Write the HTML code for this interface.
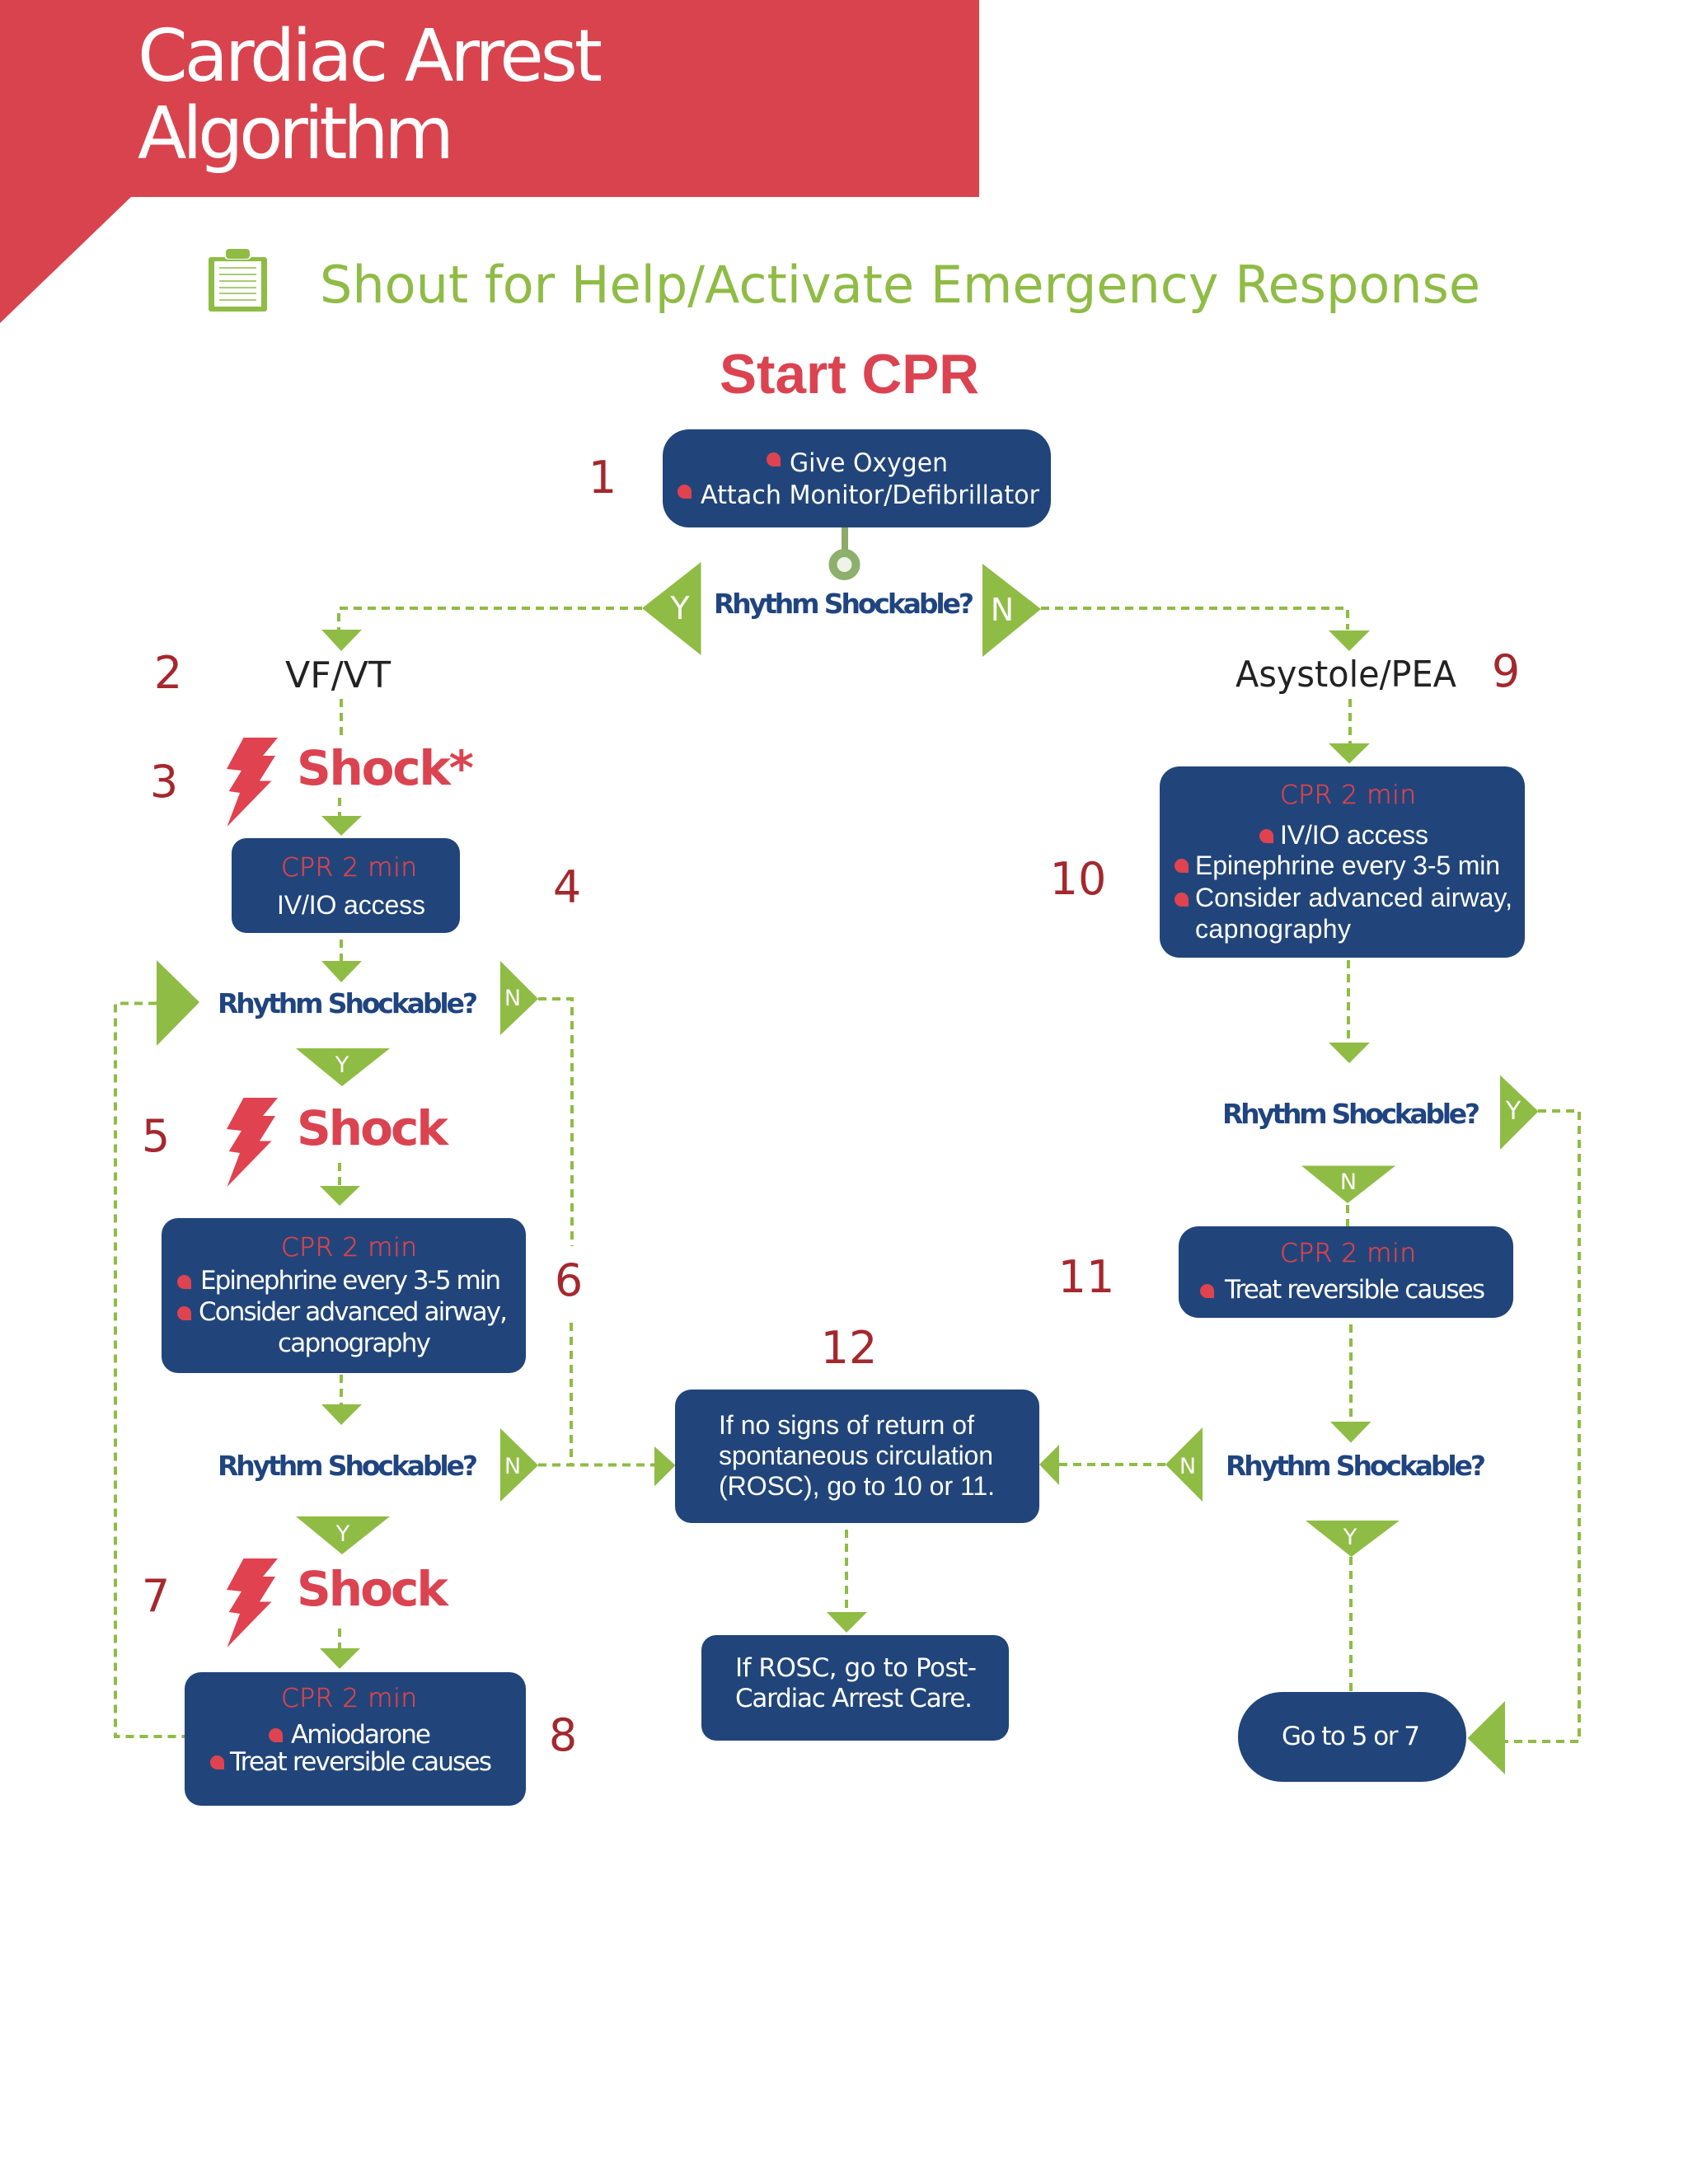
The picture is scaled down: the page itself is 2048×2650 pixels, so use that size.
<!DOCTYPE html>
<html><head><meta charset="utf-8"><title>Cardiac Arrest Algorithm</title>
<style>
html,body{margin:0;padding:0;background:#fff}
svg{display:block}
text{font-family:"DejaVu Sans","Liberation Sans",sans-serif}
.tri{fill:#8fbc45}
.dash{fill:none;stroke:#8fbc45;stroke-width:4;stroke-dasharray:10 7}
.box{fill:#21457a}
.num{fill:#a4282d;font-size:54px;text-anchor:middle}
.cpr{fill:#d9434e;font-size:31px;font-weight:200;stroke:#d9434e;stroke-width:.6}
.w{fill:#fff;font-size:31px}
.lib{font-family:"Liberation Sans",sans-serif;fill:#fff;font-size:32px}
.rs{fill:#1f4480;font-size:33px;font-weight:700}
.sh{fill:#db4350;font-size:58px;font-weight:700}
.yn{fill:#fff;font-size:27px;text-anchor:middle;font-weight:400}
.bl{fill:#df4350}
</style></head><body>
<svg xmlns="http://www.w3.org/2000/svg" width="2048" height="2650" viewBox="0 0 2048 2650">
<defs>
<path id="b" d="M8.5 0A8.5 8.5 0 1 0 8.5 17H17V8.5A8.5 8.5 0 0 0 8.5 0Z"/>
<polygon id="bolt" points="295.5,895 337,895 319,917 334,917 315,947.5 329.5,947.5 275.5,1003 291,962 277.7,960 293,935 275,933"/>
</defs>
<rect width="2048" height="2650" fill="#fff"/>

<polygon points="0,0 1188,0 1188,239 159,239 0,392" fill="#d9434e"/>
<text x="167" y="98" font-size="87" fill="#fff" textLength="564" lengthAdjust="spacing">Cardiac Arrest</text>
<text x="167" y="192" font-size="87" fill="#fff" textLength="384" lengthAdjust="spacing">Algorithm</text>

<rect x="253" y="312" width="71" height="66" rx="3" fill="#8fbc45"/>
<rect x="260" y="317" width="57" height="55" fill="#fff"/>
<rect x="272" y="300" width="33" height="15" rx="5" fill="#fff"/>
<rect x="274" y="302" width="29" height="12" rx="4" fill="#8fbc45"/>
<g stroke="#8fbc45" stroke-width="1.6"><line x1="266" x2="311" y1="325" y2="325"/><line x1="266" x2="311" y1="333" y2="333"/><line x1="266" x2="311" y1="341" y2="341"/><line x1="266" x2="311" y1="349" y2="349"/><line x1="266" x2="311" y1="356" y2="356"/><line x1="266" x2="311" y1="364" y2="364"/></g>
<text x="388" y="367" font-size="62" fill="#8fbc45" textLength="1408" lengthAdjust="spacing">Shout for Help/Activate Emergency Response</text>

<text x="873" y="477" font-size="68" font-weight="700" style="font-family:'Liberation Sans',sans-serif" fill="#db4350" textLength="315" lengthAdjust="spacingAndGlyphs">Start CPR</text>

<!-- dashed connectors -->
<path class="dash" d="M779 738H411V764"/>
<path class="dash" d="M1263 738H1635V764"/>
<path class="dash" d="M414 848V898"/>
<path class="dash" d="M412 968V990"/>
<path class="dash" d="M414 1140V1166"/>
<path class="dash" d="M653 1212H694V1512"/>
<path class="dash" d="M693 1605V1778"/>
<path class="dash" d="M190 1217.5H140V2107H224"/>
<path class="dash" d="M412 1411V1440"/>
<path class="dash" d="M414 1668V1704"/>
<path class="dash" d="M653 1777.5H794"/>
<path class="dash" d="M412 1976V2000"/>
<path class="dash" d="M1285 1777H1414"/>
<path class="dash" d="M1027 1856V1956"/>
<path class="dash" d="M1638 848V902"/>
<path class="dash" d="M1636 1165V1265"/>
<path class="dash" d="M1866 1348H1916V2113H1826"/>
<path class="dash" d="M1635 1462V1488"/>
<path class="dash" d="M1639 1607V1725"/>
<path class="dash" d="M1639 1889V2053"/>

<!-- Box 1 -->
<rect class="box" x="804" y="521" width="471" height="119" rx="32"/>
<use href="#b" class="bl" x="930" y="549"/>
<use href="#b" class="bl" x="822" y="588"/>
<text x="958" y="572" class="w" font-size="30" textLength="192" lengthAdjust="spacingAndGlyphs">Give Oxygen</text>
<text x="850" y="611" class="w" font-size="30" textLength="411" lengthAdjust="spacingAndGlyphs">Attach Monitor/Defibrillator</text>
<text x="724" y="598" class="num" transform="translate(7 0)">1</text>
<rect x="1009" y="640" width="8" height="30" fill="#8aab6a" transform="translate(12 0)"/>
<circle cx="1024.5" cy="685" r="14" fill="#eef3e8" stroke="#8db06d" stroke-width="10"/>

<polygon class="tri" points="779,738 850.5,682 850.5,795"/>
<polygon class="tri" points="1192,684 1263,739 1192,797"/>
<text x="817" y="751" class="yn" style="font-size:38px" transform="translate(8 0)">Y</text>
<text x="1205" y="753" class="yn" style="font-size:38px" transform="translate(11 0)">N</text>
<text x="866" y="744" class="rs" textLength="316" lengthAdjust="spacing">Rhythm Shockable?</text>

<polygon class="tri" points="390,764 439,764 414,790"/>
<polygon class="tri" points="1612,765 1662,765 1637,790"/>

<!-- Left column -->
<text x="346" y="834" font-size="44" fill="#222" textLength="128" lengthAdjust="spacingAndGlyphs">VF/VT</text>
<text x="204" y="835" class="num">2</text>
<text x="199" y="967" class="num">3</text>
<text x="688" y="1095" class="num">4</text>
<text x="189" y="1397" class="num">5</text>
<text x="690" y="1572" class="num">6</text>
<text x="189" y="1955" class="num">7</text>
<text x="683" y="2124" class="num">8</text>
<use href="#bolt" fill="#e0424f"/>
<use href="#bolt" fill="#e0424f" y="437"/>
<use href="#bolt" fill="#e0424f" y="996"/>
<text x="360" y="952" class="sh" textLength="215" lengthAdjust="spacing">Shock*</text>
<text x="360" y="1389" class="sh" textLength="184" lengthAdjust="spacing">Shock</text>
<text x="360" y="1948" class="sh" textLength="184" lengthAdjust="spacing">Shock</text>

<polygon class="tri" points="390,990 439,990 414,1014"/>
<rect class="box" x="281" y="1017" width="277" height="115" rx="18"/>
<text x="341" y="1063" class="cpr" textLength="165" lengthAdjust="spacing">CPR 2 min</text>
<text x="336" y="1109" class="lib" textLength="180" lengthAdjust="spacing">IV/IO access</text>

<polygon class="tri" points="390,1166 439,1166 414,1192"/>
<polygon class="tri" points="190,1165 242,1216 190,1269"/>
<text x="264" y="1229" class="rs" textLength="316" lengthAdjust="spacing">Rhythm Shockable?</text>
<polygon class="tri" points="607,1166 653,1212 607,1256"/>
<text x="622" y="1220" class="yn">N</text>
<polygon class="tri" points="359,1272 473,1272 415,1318"/>
<text x="415" y="1301" class="yn">Y</text>

<polygon class="tri" points="388,1439 437,1439 412,1463"/>
<rect class="box" x="196" y="1478" width="442" height="188" rx="20"/>
<text x="341" y="1524" class="cpr" textLength="165" lengthAdjust="spacing">CPR 2 min</text>
<use href="#b" class="bl" x="215" y="1547"/>
<use href="#b" class="bl" x="215" y="1585"/>
<text x="243" y="1564" class="w" textLength="365" lengthAdjust="spacing">Epinephrine every 3-5 min</text>
<text x="241" y="1602" class="w" textLength="375" lengthAdjust="spacing">Consider advanced airway,</text>
<text x="337" y="1640" class="w" textLength="186" lengthAdjust="spacing">capnography</text>

<polygon class="tri" points="390,1704 439,1704 414,1729"/>
<text x="264" y="1790" class="rs" textLength="316" lengthAdjust="spacing">Rhythm Shockable?</text>
<polygon class="tri" points="607,1733 653,1778 607,1822"/>
<text x="622" y="1788" class="yn">N</text>
<polygon class="tri" points="359,1840 473,1840 415,1886"/>
<text x="416" y="1870" class="yn">Y</text>

<polygon class="tri" points="388,2000 437,2000 412,2025"/>
<rect class="box" x="224" y="2029" width="414" height="162" rx="20"/>
<text x="341" y="2071" class="cpr" textLength="165" lengthAdjust="spacing">CPR 2 min</text>
<use href="#b" class="bl" x="326" y="2097"/>
<use href="#b" class="bl" x="255" y="2130"/>
<text x="353" y="2115" class="w" textLength="170" lengthAdjust="spacing">Amiodarone</text>
<text x="279" y="2148" class="w" textLength="318" lengthAdjust="spacing">Treat reversible causes</text>

<!-- Centre -->
<text x="1030" y="1654" class="num">12</text>
<polygon class="tri" points="794,1755 819.5,1778 794,1803.5"/>
<rect class="box" x="819" y="1686" width="442" height="162" rx="20"/>
<text x="872" y="1740" class="lib" textLength="310" lengthAdjust="spacing">If no signs of return of</text>
<text x="872" y="1777" class="lib" textLength="333" lengthAdjust="spacing">spontaneous circulation</text>
<text x="872" y="1814" class="lib" textLength="335" lengthAdjust="spacing">(ROSC), go to 10 or 11.</text>
<polygon class="tri" points="1261,1777 1285,1753 1285,1802"/>
<polygon class="tri" points="1003,1956 1052,1956 1027,1981"/>
<rect class="box" x="851" y="1984" width="373" height="128" rx="18"/>
<text x="892" y="2034" class="w" font-size="30" textLength="293" lengthAdjust="spacing">If ROSC, go to Post-</text>
<text x="892" y="2071" class="w" font-size="30" textLength="288" lengthAdjust="spacing">Cardiac Arrest Care.</text>

<!-- Right column -->
<text x="1499" y="833" font-size="44" fill="#222" textLength="268" lengthAdjust="spacingAndGlyphs">Asystole/PEA</text>
<text x="1827" y="833" class="num">9</text>
<text x="1308" y="1085" class="num">10</text>
<text x="1318" y="1568" class="num">11</text>

<polygon class="tri" points="1612,902 1662,902 1637,926.5"/>
<rect class="box" x="1407" y="930" width="443" height="232" rx="24"/>
<text x="1553" y="975" class="cpr" textLength="165" lengthAdjust="spacing">CPR 2 min</text>
<use href="#b" class="bl" x="1528" y="1006"/>
<use href="#b" class="bl" x="1425" y="1042"/>
<use href="#b" class="bl" x="1425" y="1083"/>
<text x="1553" y="1024" class="lib" textLength="180" lengthAdjust="spacing">IV/IO access</text>
<text x="1450" y="1061" class="lib" textLength="370" lengthAdjust="spacing">Epinephrine every 3-5 min</text>
<text x="1450" y="1100" class="lib" textLength="385" lengthAdjust="spacing">Consider advanced airway,</text>
<text x="1450" y="1138" class="lib" textLength="189" lengthAdjust="spacing">capnography</text>

<polygon class="tri" points="1612,1265 1662,1265 1637,1290"/>
<text x="1483" y="1363" class="rs" textLength="313" lengthAdjust="spacing">Rhythm Shockable?</text>
<polygon class="tri" points="1820,1304.5 1866.5,1348.5 1820,1395"/>
<text x="1836" y="1358" class="yn" style="font-size:30px">Y</text>
<polygon class="tri" points="1579,1414.5 1693,1414.5 1635,1460"/>
<text x="1636" y="1443" class="yn">N</text>

<rect class="box" x="1430" y="1488" width="406" height="111" rx="24"/>
<text x="1553" y="1531" class="cpr" textLength="165" lengthAdjust="spacing">CPR 2 min</text>
<use href="#b" class="bl" x="1456" y="1558"/>
<text x="1486" y="1575" class="w" textLength="316" lengthAdjust="spacing">Treat reversible causes</text>

<polygon class="tri" points="1614,1725 1663.5,1725 1639,1750.5"/>
<polygon class="tri" points="1414,1777 1459,1732 1459,1822"/>
<text x="1441" y="1788" class="yn">N</text>
<text x="1487" y="1790" class="rs" textLength="316" lengthAdjust="spacing">Rhythm Shockable?</text>
<polygon class="tri" points="1584,1845 1698,1845 1639.5,1889"/>
<text x="1638" y="1874" class="yn">Y</text>

<rect class="box" x="1502" y="2053" width="277" height="109" rx="54"/>
<text x="1555" y="2117" class="w" font-size="30" textLength="168" lengthAdjust="spacing">Go to 5 or 7</text>
<polygon class="tri" points="1780.5,2109 1826,2064 1826,2153"/>
</svg>
</body></html>
